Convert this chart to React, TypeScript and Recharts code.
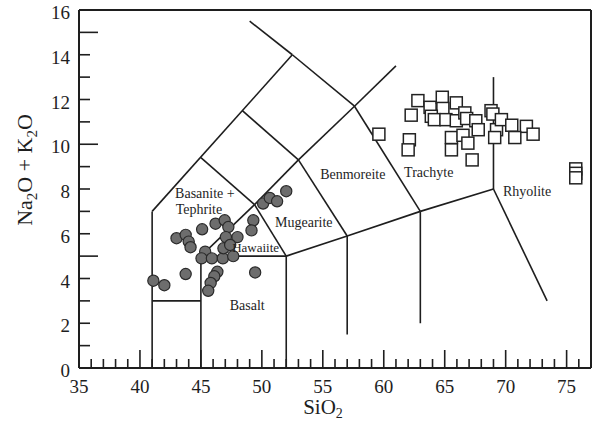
import React from "react";
import {
  ScatterChart,
  Scatter,
  XAxis,
  YAxis,
  ReferenceLine,
  ReferenceDot,
} from "recharts";

// basaltic rocks (filled circles)
const basalts = [
  { x: 41.1, y: 3.9 }, { x: 42.0, y: 3.7 }, { x: 43.75, y: 4.2 }, { x: 43.0, y: 5.8 },
  { x: 43.75, y: 5.95 }, { x: 44.0, y: 5.65 }, { x: 44.15, y: 5.4 }, { x: 45.1, y: 6.2 },
  { x: 46.2, y: 6.45 }, { x: 46.95, y: 6.6 }, { x: 47.25, y: 6.3 }, { x: 45.35, y: 5.2 },
  { x: 45.05, y: 4.9 }, { x: 45.9, y: 4.9 }, { x: 46.8, y: 4.9 }, { x: 47.65, y: 5.0 },
  { x: 46.85, y: 5.35 }, { x: 47.05, y: 5.85 }, { x: 48.0, y: 5.85 }, { x: 47.4, y: 5.5 },
  { x: 46.35, y: 4.3 }, { x: 46.1, y: 4.1 }, { x: 45.8, y: 3.8 }, { x: 45.6, y: 3.45 },
  { x: 49.45, y: 4.27 }, { x: 49.3, y: 6.6 }, { x: 49.15, y: 6.15 }, { x: 50.1, y: 7.35 },
  { x: 50.65, y: 7.6 }, { x: 51.25, y: 7.45 }, { x: 52.0, y: 7.9 },
];

// trachytes / rhyolites (open squares)
const trachytes = [
  { x: 59.6, y: 10.45 }, { x: 62.1, y: 10.2 }, { x: 62.0, y: 9.75 }, { x: 62.25, y: 11.3 },
  { x: 62.8, y: 11.95 }, { x: 63.8, y: 11.65 }, { x: 64.8, y: 12.1 }, { x: 65.95, y: 11.85 },
  { x: 64.85, y: 11.6 }, { x: 63.9, y: 11.25 }, { x: 64.15, y: 11.1 }, { x: 65.1, y: 11.1 },
  { x: 65.95, y: 11.05 }, { x: 66.65, y: 11.4 }, { x: 66.8, y: 11.15 }, { x: 67.55, y: 11.05 },
  { x: 65.55, y: 10.3 }, { x: 66.5, y: 10.4 }, { x: 66.9, y: 10.05 }, { x: 65.55, y: 9.75 },
  { x: 67.75, y: 10.65 }, { x: 67.25, y: 9.3 }, { x: 68.8, y: 11.5 }, { x: 68.95, y: 11.35 },
  { x: 69.25, y: 10.65 }, { x: 69.1, y: 10.3 }, { x: 69.65, y: 11.1 }, { x: 70.5, y: 10.85 },
  { x: 71.7, y: 10.8 }, { x: 72.25, y: 10.45 }, { x: 70.75, y: 10.3 },
  { x: 75.75, y: 8.9 }, { x: 75.75, y: 8.7 }, { x: 75.75, y: 8.5 },
];

// TAS field boundaries [x1, y1, x2, y2]
const boundaries: [number, number, number, number][] = [
  [41, 0, 41, 7],
  [41, 7, 52.5, 14],
  [49, 15.5, 52.5, 14],
  [52.5, 14, 57.6, 11.7],
  [57.6, 11.7, 63, 7],
  [45, 9.4, 49.4, 7.3],
  [49.4, 7.3, 52, 5],
  [48.4, 11.5, 53, 9.3],
  [45, 5, 49.4, 7.3],
  [49.4, 7.3, 53, 9.3],
  [53, 9.3, 57.6, 11.7],
  [57.6, 11.7, 61, 13.5],
  [53, 9.3, 57, 5.9],
  [41, 3, 45, 3],
  [45, 0, 45, 5],
  [45, 5, 52, 5],
  [52, 0, 52, 5],
  [52, 5, 57, 5.9],
  [57, 5.9, 63, 7],
  [63, 7, 69, 8],
  [57, 1.5, 57, 5.9],
  [63, 2, 63, 7],
  [69, 8, 69, 13],
  [69, 8, 73.4, 3],
];

// top and right sides of the frame [x1, y1, x2, y2]
const frame: [number, number, number, number][] = [
  [35, 16, 77, 16],
  [77, 16, 77, 0],
];

const fieldNames = ["Basanite +", "Tephrite", "Hawaiite", "Mugearite", "Basalt", "Benmoreite", "Trachyte", "Rhyolite"];
const fieldX = [45.33, 44.84, 49.49, 53.44, 48.8, 57.46, 63.69, 71.76];
const fieldY = [7.83, 7.11, 5.39, 6.53, 2.82, 8.68, 8.75, 7.92];

const xTicks = Array.from({ length: 42 }, (_, i) => 35 + i);
const yTicks = Array.from({ length: 17 }, (_, i) => i);

const FONT = "'Liberation Serif', 'Times New Roman', serif";
const INK = "#1e1e1e";

const XTick = (props: any) => {
  const { x, y, payload } = props;
  const v = payload.value;
  const major = v % 5 === 0;
  return (
    <g>
      <line x1={x} x2={x} y1={y} y2={y - (major ? 18 : 9)} stroke={INK} strokeWidth={1.6} />
      {major && (
        <text x={x} y={y + 25} textAnchor="middle" fontSize={19} fontFamily={FONT} fill={INK}>
          {v}
        </text>
      )}
    </g>
  );
};

const YTick = (props: any) => {
  const { x, y, payload } = props;
  const v = payload.value;
  const major = v % 5 === 0;
  return (
    <g>
      <line x1={x} x2={x + (major ? 19 : 11)} y1={y} y2={y} stroke={INK} strokeWidth={1.6} />
      {v % 2 === 0 && (
        <text x={x - 9} y={y + 9} textAnchor="end" fontSize={19} fontFamily={FONT} fill={INK}>
          {v}
        </text>
      )}
    </g>
  );
};

const XTitle = (props: any) => {
  const vb = props.viewBox;
  return (
    <text x={vb.x + vb.width / 2 - 12} y={vb.y + 46} textAnchor="middle" fontSize={21} fontFamily={FONT} fill={INK}>
      SiO<tspan fontSize={14} dy={4}>2</tspan>
    </text>
  );
};

const YTitle = (props: any) => {
  const vb = props.viewBox;
  const cx = vb.x + vb.width - 47;
  const cy = vb.y + vb.height / 2 - 19;
  return (
    <text x={cx} y={cy} transform={`rotate(-90 ${cx} ${cy})`} textAnchor="middle" fontSize={22} fontFamily={FONT} fill={INK}>
      Na<tspan fontSize={15} dy={5}>2</tspan>
      <tspan dy={-5}>O + K</tspan>
      <tspan fontSize={15} dy={5}>2</tspan>
      <tspan dy={-5}>O</tspan>
    </text>
  );
};

const Circle = (props: any) => (
  <circle cx={props.cx} cy={props.cy} r={5.6} fill="#6d6d6d" stroke="#2a2a2a" strokeWidth={1.2} />
);

const Square = (props: any) => (
  <rect x={props.cx - 6} y={props.cy - 6} width={12} height={12} fill="#fff" stroke="#222" strokeWidth={1.5} />
);

export default function App() {
  return (
    <div style={{ position: "absolute", left: 0, top: 0, width: 599, height: 426, background: "#fff" }}>
      <ScatterChart width={599} height={426} margin={{ top: 10, right: 8, bottom: 18, left: 39 }}>
        <XAxis
          type="number"
          dataKey="x"
          domain={[35, 77]}
          ticks={xTicks}
          interval={0}
          allowDataOverflow
          height={40}
          tickSize={0}
          tickMargin={0}
          tick={<XTick />}
          axisLine={{ stroke: INK, strokeWidth: 2 }}
          label={{ content: <XTitle /> }}
        />
        <YAxis
          type="number"
          dataKey="y"
          domain={[0, 16]}
          ticks={yTicks}
          interval={0}
          allowDataOverflow
          width={40}
          tickSize={0}
          tickMargin={0}
          tick={<YTick />}
          axisLine={{ stroke: INK, strokeWidth: 2 }}
          label={{ content: <YTitle /> }}
        />
        {frame.map((b, i) => (
          <ReferenceLine
            key={`frame${i}`}
            segment={[{ x: b[0], y: b[1] }, { x: b[2], y: b[3] }]}
            stroke={INK}
            strokeWidth={2}
            ifOverflow="visible"
          />
        ))}
        {boundaries.map((b, i) => (
          <ReferenceLine
            key={i}
            segment={[{ x: b[0], y: b[1] }, { x: b[2], y: b[3] }]}
            stroke={INK}
            strokeWidth={1.6}
            ifOverflow="visible"
          />
        ))}
        {fieldNames.map((name, i) => (
          <ReferenceDot
            key={name}
            x={fieldX[i]}
            y={fieldY[i]}
            r={0}
            fill="none"
            stroke="none"
            label={{ value: name, position: "center", fontSize: name === "Hawaiite" ? 13 : 14, fontFamily: FONT, fill: INK }}
          />
        ))}
        <Scatter data={basalts} shape={<Circle />} isAnimationActive={false} />
        <Scatter data={trachytes} shape={<Square />} isAnimationActive={false} />
      </ScatterChart>
    </div>
  );
}
